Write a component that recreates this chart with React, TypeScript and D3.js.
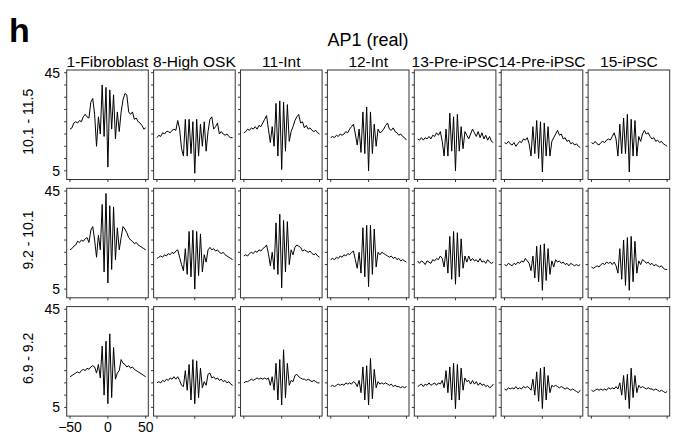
import React from "react";
import * as d3 from "d3";

// positions around the motif centre (bp)
const positions = [
  -50, -47.5, -45, -42.5, -40, -37.5, -35, -32.5, -30, -27.5, -25, -22.5, -20, -17.5, -15, -12.5, -10, -7.5, -5, -2.5,
  0, 2.5, 5, 7.5, 10, 12.5, 15, 17.5, 20, 22.5, 25, 27.5, 30, 32.5, 35, 37.5, 40, 42.5, 45, 47.5, 50,
];

const columns = ["1-Fibroblast", "8-High OSK", "11-Int", "12-Int", "13-Pre-iPSC", "14-Pre-iPSC", "15-iPSC"];
const rowLabels = ["10.1 - 11.5", "9.2 - 10.1", "6.9 - 9.2"];
const yTicks = [5, 10, 15, 20, 25, 30, 35, 40, 45];
const yTickLabels = [5, 45];
const xTicks = [-50, 0, 50];

// row 1: 10.1 - 11.5
const fibroblastHigh = [22, 22.5, 24.5, 25, 24.5, 25.5, 25, 27, 28, 27, 26.5, 33, 34.5, 28, 15, 27, 20, 40, 19, 39, 6.5, 38, 22, 36, 18, 29, 21, 29, 34, 36.5, 36, 29, 28, 29, 26, 26.5, 25, 24.5, 23.5, 22, 22.5];
const oskHigh = [18.5, 19.5, 19, 20.5, 20, 21, 21, 20.5, 21.5, 22, 21.5, 25.5, 22, 14, 11, 26, 11, 26, 12, 25, 4, 26, 11, 24, 15, 25, 13, 21, 26, 27, 22, 23, 24.5, 20, 21, 20, 19.5, 20, 19, 18.5, 18.5];
const int11High = [20.5, 21, 22, 21.5, 22.5, 22, 23, 22, 23.5, 23, 24.5, 26, 27.5, 22, 16.5, 23, 15, 32.5, 11, 33.5, 5.5, 33, 13, 32, 17, 21, 23, 25.5, 27, 28, 24.5, 25, 22.5, 23.5, 22, 22.5, 21.5, 21, 21.5, 20.5, 20];
const int12High = [18.5, 19, 18.5, 19.5, 19, 20, 19.5, 20, 21, 20.5, 22, 23, 24, 20, 15.5, 22, 12.5, 29, 12, 31, 5, 29, 12, 24, 15, 22, 20.5, 21, 22, 23.5, 24.5, 22, 21.5, 22.5, 21, 20.5, 19.5, 20, 19, 18.5, 17.5];
const pre13High = [18, 17.5, 18.5, 17.5, 18.5, 18, 19, 18, 19.5, 19, 20.5, 19.5, 21, 17, 11, 22, 11, 28.5, 13, 27, 5, 28, 13, 23, 14, 21, 19.5, 18, 20, 22, 20.5, 19, 21, 18.5, 20.5, 18, 19.5, 17.5, 19, 17, 16.5];
const pre14High = [16.5, 16, 17, 16, 15.5, 16.5, 15, 16, 17, 16.5, 18, 17.5, 18.5, 16, 11, 23, 12, 25.5, 10, 25, 4.5, 24.5, 11, 23, 11, 17, 18.5, 20, 21.5, 19.5, 20, 18, 18.5, 17, 17.5, 16, 16.5, 15.5, 16, 15, 14.5];
const ipscHigh = [16.5, 16, 17, 16, 15.5, 16.5, 17, 16.5, 17.5, 18, 17.5, 19, 20.5, 18, 11, 24, 12, 26.5, 12, 28, 4.5, 26, 11, 25.5, 11, 19, 17, 20, 21.5, 20, 20.5, 19, 18, 18.5, 17, 17.5, 16.5, 17, 16, 15.5, 15];

// row 2: 9.2 - 10.1
const fibroblastMid = [21, 21.5, 22.5, 23, 24.5, 24, 25, 24.5, 25.5, 26, 24, 29, 30.5, 25, 18, 27, 21, 39.5, 12, 44, 7.5, 39, 13, 38.5, 17, 30, 21, 26, 30.5, 29.5, 28, 26, 25, 24.5, 23.5, 24, 23, 22.5, 22, 21.5, 21];
const oskMid = [17.5, 18, 18.5, 18, 19, 18.5, 19.5, 19, 20, 19.5, 20.5, 21, 18, 15, 12.5, 21.5, 11, 28.5, 10, 29, 5, 28.5, 10.5, 27.5, 12, 19, 16, 21, 22, 21, 21.5, 20.5, 21, 20, 19.5, 20, 19, 18.5, 18, 17.5, 17];
const int11Mid = [18.5, 19, 18.5, 19.5, 20, 19.5, 20.5, 20, 21, 20.5, 21.5, 22, 23, 19.5, 14.5, 20, 13, 32, 11, 35.5, 5.5, 33, 12, 32.5, 15, 21, 19, 22, 23, 22.5, 22, 20.5, 21, 20.5, 20, 20.5, 19.5, 19, 19.5, 18.5, 18];
const int12Mid = [17, 17.5, 17, 18, 17.5, 18.5, 18, 19, 18.5, 19.5, 19, 20, 20.5, 17, 13.5, 20, 11.5, 30, 10, 31, 6, 31, 11, 29.5, 14, 20, 19, 20, 19.5, 19, 18.5, 18, 18.5, 17.5, 18, 17, 17.5, 16.5, 17, 16.5, 16];
const pre13Mid = [16.5, 15.5, 16.5, 16, 15, 16.5, 16, 15.5, 17, 16.5, 17.5, 17, 18.5, 17.5, 14, 21, 11.5, 26.5, 9, 28.5, 7, 28, 10, 25.5, 13.5, 18.5, 16, 18.5, 16.5, 17.5, 16.5, 17, 16, 17.5, 16, 16.5, 15.5, 17, 16, 15.5, 16];
const pre14Mid = [15, 14.5, 15.5, 15, 14.5, 15.5, 15, 16, 15.5, 16.5, 16, 17.5, 16.5, 15.5, 12.5, 18.5, 9.5, 22.5, 8, 23, 4.5, 23.5, 8.5, 21.5, 11, 16.5, 14, 17, 16, 16.5, 15.5, 16, 15, 15.5, 14.5, 15.5, 15, 14.5, 15, 14.5, 15];
const ipscMid = [14, 13.5, 14, 14.5, 14, 15, 15.5, 15, 16, 15.5, 16, 15, 16, 14.5, 11.5, 21.5, 9, 25, 6.5, 26, 4.5, 26.5, 8, 24.5, 11.5, 16.5, 15, 17, 16.5, 15.5, 16, 15, 15.5, 14.5, 15, 14.5, 14, 14.5, 13.5, 13, 13];

// row 3: 6.9 - 9.2
const fibroblastLow = [17.5, 18, 18.5, 19, 19.5, 19, 20, 20.5, 20, 21, 20.5, 21.5, 22, 21.5, 19, 22.5, 17, 30, 10, 32, 6.5, 35, 9, 29.5, 16.5, 19, 20, 24.5, 23, 22.5, 21.5, 22, 21, 21.5, 20.5, 20, 19.5, 19, 18.5, 18, 17.5];
const oskLow = [15, 15.5, 15, 16, 15.5, 16.5, 16, 17, 16.5, 17.5, 16.5, 17.5, 16, 14, 13.5, 20, 12, 22.5, 8, 24.5, 6.5, 24, 9, 21, 13, 15.5, 14, 18.5, 19, 17, 17.5, 16.5, 17, 16, 16.5, 15.5, 16, 15, 15.5, 14.5, 14];
const int11Low = [15, 15.5, 15.5, 16, 16.5, 16, 16.5, 17, 16.5, 17, 16.5, 17, 16.5, 17, 14, 17.5, 12, 23, 8, 24.5, 6, 28.5, 9, 23, 14, 16, 15.5, 18, 18.5, 17.5, 17, 16.5, 16.5, 16, 16.5, 16, 15.5, 16, 15.5, 15, 15];
const int12Low = [13.5, 14, 13.5, 14, 14.5, 14, 14.5, 14, 15, 14.5, 15, 14.5, 15.5, 15, 13.5, 16, 11, 21.5, 8, 22, 6, 25, 8.5, 20.5, 13, 15.5, 14.5, 15, 14.5, 15, 14.5, 14, 14.5, 13.5, 14, 13.5, 13.5, 13, 13.5, 13, 13.5];
const pre13Low = [13.5, 14, 14.5, 13.5, 14.5, 14, 15, 14, 14.5, 15, 14, 15, 14.5, 16, 13, 20, 11, 21.5, 8, 23, 4.5, 22.5, 8, 21, 12, 17, 15.5, 16, 14.5, 16, 14.5, 15.5, 14, 15, 14, 14.5, 13.5, 14, 13, 13.5, 14.5];
const pre14Low = [12.5, 12, 13, 12.5, 13, 12.5, 13.5, 12.5, 13, 12.5, 13.5, 13, 13.5, 13, 12, 16.5, 10, 19.5, 7.5, 21, 4.5, 21.5, 8, 18, 11, 14, 13.5, 14, 13.5, 13, 13.5, 13, 12.5, 13, 12.5, 12, 12.5, 12, 11.5, 11, 12];
const ipscLow = [12, 11.5, 12, 12.5, 12, 12.5, 12, 12.5, 12, 13, 12.5, 13, 12.5, 13.5, 12.5, 15, 10, 18, 8, 18.5, 4.5, 21, 9, 18, 11, 14, 13, 13.5, 13, 12.5, 13, 12.5, 12.5, 12, 12.5, 12, 11.5, 12, 11.5, 11, 11.5];

const grid = [
  [fibroblastHigh, oskHigh, int11High, int12High, pre13High, pre14High, ipscHigh],
  [fibroblastMid, oskMid, int11Mid, int12Mid, pre13Mid, pre14Mid, ipscMid],
  [fibroblastLow, oskLow, int11Low, int12Low, pre13Low, pre14Low, ipscLow],
];

const FONT = "'Liberation Sans', Arial, Helvetica, sans-serif";

export default function App() {
  const left = 66.7;
  const top = 70;
  const colStep = 86.9;
  const rowStep = 118.3;
  const pw = 81.6;
  const ph = 109.5;

  const x = d3.scaleLinear().domain([-54.4, 53.4]).range([0, pw]);
  const y = d3.scaleLinear().domain([1.45, 46.1]).range([ph, 0]);
  const line = d3
    .line<number>()
    .x((_, i) => x(positions[i]))
    .y((d) => y(d));

  return (
    <svg
      width={690}
      height={435}
      style={{ position: "absolute", left: 0, top: 0, background: "#fff" }}
      fontFamily={FONT}
    >
      <text x={9} y={42} fontSize={34} fontWeight="bold">h</text>
      <text x={368} y={46} fontSize={18} textAnchor="middle">AP1 (real)</text>

      {columns.map((c, j) => (
        <text key={c} x={left + j * colStep + pw / 2} y={67} fontSize={15.5} textAnchor="middle">
          {c}
        </text>
      ))}

      {grid.map((row, r) => {
        const ty = top + r * rowStep;
        return (
          <g key={r}>
            <text
              transform={`translate(33,${ty + (y(5) + y(45)) / 2}) rotate(-90)`}
              fontSize={14}
              textAnchor="middle"
            >
              {rowLabels[r]}
            </text>
            {yTickLabels.map((t) => (
              <text key={t} x={60} y={ty + y(t)} dy="0.35em" fontSize={14} textAnchor="end">
                {t}
              </text>
            ))}
            {row.map((vals, j) => {
              const tx = left + j * colStep;
              return (
                <g key={j} transform={`translate(${tx},${ty})`}>
                  <rect x={0} y={0} width={pw} height={ph} fill="none" stroke="#333" strokeWidth={1} />
                  {yTicks.map((t) => (
                    <line key={t} x1={-2.5} x2={0} y1={y(t)} y2={y(t)} stroke="#333" strokeWidth={1} />
                  ))}
                  {xTicks.map((t) => (
                    <line key={t} x1={x(t)} x2={x(t)} y1={ph} y2={ph + 2.5} stroke="#333" strokeWidth={1} />
                  ))}
                  <path d={line(vals) ?? ""} fill="none" stroke="#000" strokeWidth={1} strokeLinejoin="round" />
                </g>
              );
            })}
          </g>
        );
      })}

      {xTicks.map((t) => (
        <text key={t} x={left + x(t)} y={432} fontSize={14} textAnchor="middle">
          {t < 0 ? `\u2212${Math.abs(t)}` : t}
        </text>
      ))}
    </svg>
  );
}
